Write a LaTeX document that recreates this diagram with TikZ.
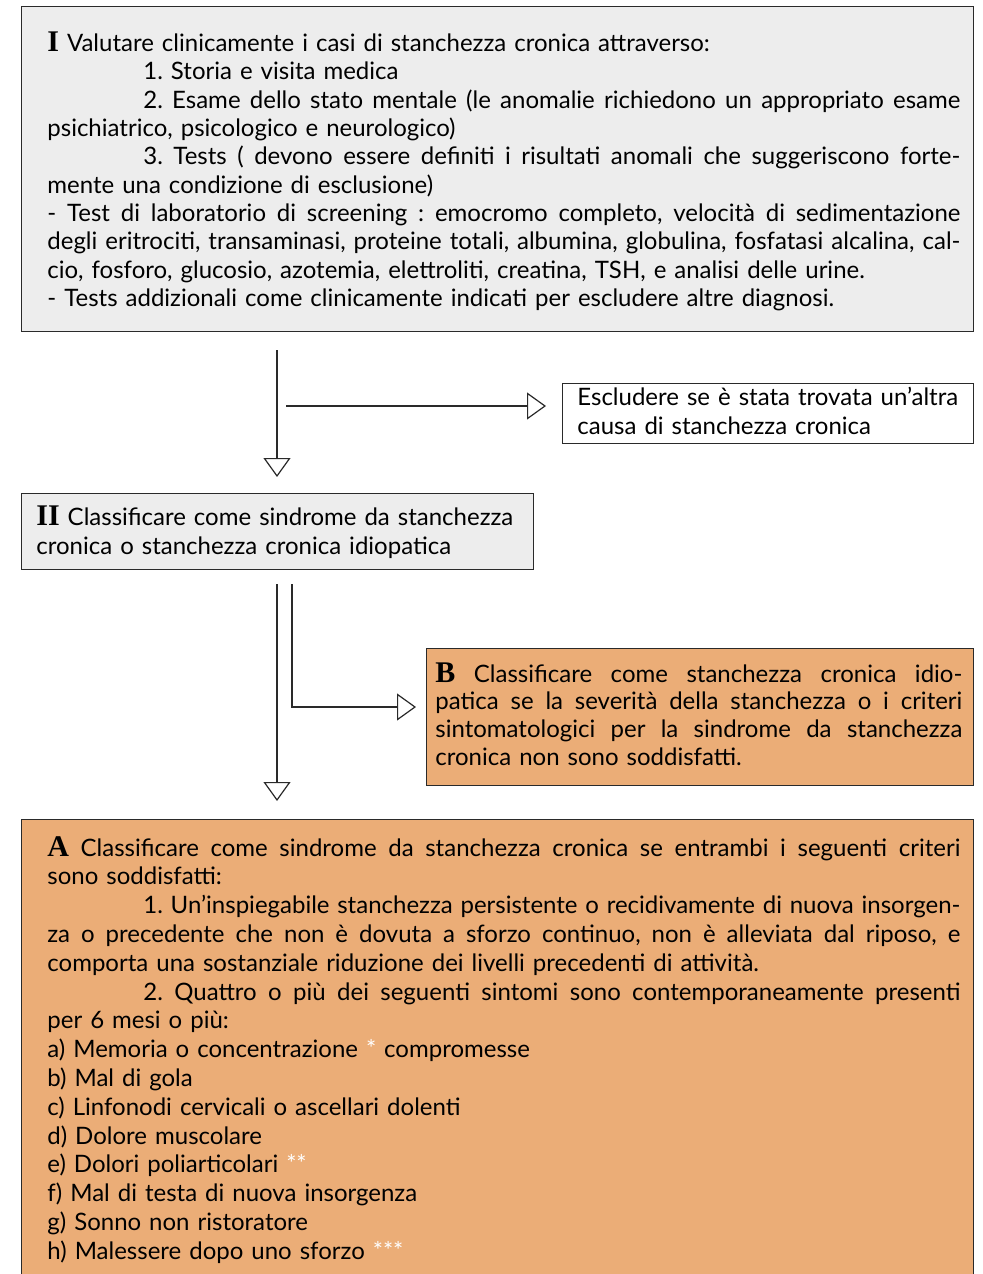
\documentclass[tikz,border=0pt]{standalone}
\usepackage{fontspec}
\newfontfamily\bodyfont{Lato}
\newfontfamily\tagfont{Liberation Serif}
\usetikzlibrary{arrows.meta}
\definecolor{panelgray}{HTML}{EDEDED}
\definecolor{panelorange}{HTML}{EBAD77}
\definecolor{rimgray}{HTML}{2A2A2A}
\newlength{\rowwd}
\newcommand{\tagmark}[1]{{\tagfont\bfseries\fontsize{15}{15}\selectfont #1}}
\newcommand{\fullline}[1]{\leavevmode\hbox to \rowwd{\spaceskip=\fontdimen2\font plus 1fil minus 0.6\fontdimen2\font\relax #1}}
\newcommand{\tabin}{\hspace*{48pt}}
\newcommand{\paleast}[1]{{\color{white}#1}}
\tikzset{
  panel/.style={draw=rimgray, line width=0.6pt, anchor=north west, inner sep=0pt},
  paneltext/.style={anchor=base west, inner sep=0pt, align=left, text width=#1,
    execute at begin node={\setlength{\rowwd}{#1}}},
  flow/.style={draw=rimgray, line width=0.6pt, -{Triangle[open, length=9.5pt, width=13.5pt, fill=white]}}
}

\begin{document}
\begin{tikzpicture}[x=0.5pt, y=-0.5pt]
  \useasboundingbox (0,0) rectangle (983,1274);
  \clip (0,0) rectangle (983,1274);
  % panels
  \node[panel, fill=panelgray, minimum width=476.15pt, minimum height=162.5pt] (evalbox) at (20.7,6) {};
  \node[panel, fill=white, minimum width=205.5pt, minimum height=30pt] (exclbox) at (562,383) {};
  \node[panel, fill=panelgray, minimum width=256.15pt, minimum height=38pt] (classbox) at (20.7,493) {};
  \node[panel, fill=panelorange, minimum width=273.5pt, minimum height=68.5pt] (idiobox) at (426,648) {};
  \node[panel, fill=panelorange, minimum width=476.15pt, minimum height=260pt] (critbox) at (20.7,819) {};
  % texts
  \node[paneltext=456.5pt, font=\bodyfont\fontsize{12}{14.17}\selectfont\frenchspacing] (evaltext) at (47,51.5) {%
    \tagmark{I} Valutare clinicamente i casi di stanchezza cronica attraverso:\\
    \tabin 1. Storia e visita medica\\
    \fullline{\tabin 2. Esame dello stato mentale (le anomalie richiedono un appropriato esame}\\
    psichiatrico, psicologico e neurologico)\\
    \fullline{\tabin 3. Tests ( devono essere definiti i risultati anomali che suggeriscono forte-}\\
    mente una condizione di esclusione)\\
    \fullline{- Test di laboratorio di screening : emocromo completo, velocità di sedimentazione}\\
    \fullline{degli eritrociti, transaminasi, proteine totali, albumina, globulina, fosfatasi alcalina, cal-}\\
    cio, fosforo, glucosio, azotemia, elettroliti, creatina, TSH, e analisi delle urine.\\
    - Tests addizionali come clinicamente indicati per escludere altre diagnosi.};
  \node[paneltext=198pt, font=\bodyfont\fontsize{12}{14.5}\selectfont\frenchspacing] (excltext) at (577,405) {%
    Escludere se è stata trovata un’altra\\
    causa di stanchezza cronica};
  \node[paneltext=245pt, font=\bodyfont\fontsize{12}{14.5}\selectfont\frenchspacing] (classtext) at (36,525) {%
    \tagmark{II} Classificare come sindrome da stanchezza\\
    cronica o stanchezza cronica idiopatica};
  \node[paneltext=263.5pt, font=\bodyfont\fontsize{12}{13.85}\selectfont\frenchspacing] (idiotext) at (435,682) {%
    \fullline{\tagmark{B} Classificare come stanchezza cronica idio-}\\
    \fullline{patica se la severità della stanchezza o i criteri}\\
    \fullline{sintomatologici per la sindrome da stanchezza}\\
    cronica non sono soddisfatti.};
  \node[paneltext=456.5pt, font=\bodyfont\fontsize{12}{14.4}\selectfont\frenchspacing] (crittext) at (47,856) {%
    \fullline{\tagmark{A} Classificare come sindrome da stanchezza cronica se entrambi i seguenti criteri}\\
    sono soddisfatti:\\
    \fullline{\tabin 1. Un’inspiegabile stanchezza persistente o recidivamente di nuova insorgen-}\\
    \fullline{za o precedente che non è dovuta a sforzo continuo, non è alleviata dal riposo, e}\\
    comporta una sostanziale riduzione dei livelli precedenti di attività.\\
    \fullline{\tabin 2. Quattro o più dei seguenti sintomi sono contemporaneamente presenti}\\
    per 6 mesi o più:\\
    a) Memoria o concentrazione \paleast{*} compromesse\\
    b) Mal di gola\\
    c) Linfonodi cervicali o ascellari dolenti\\
    d) Dolore muscolare\\
    e) Dolori poliarticolari \paleast{**}\\
    f) Mal di testa di nuova insorgenza\\
    g) Sonno non ristoratore\\
    h) Malessere dopo uno sforzo \paleast{***}};
  % connectors
  \coordinate (trunkA) at (277,350);
  \coordinate (branchA) at (286,406);
  \coordinate (trunkB) at (277,584);
  \coordinate (branchB) at (292,584);
  \coordinate (elbowB) at (292,707);
  \draw[flow, shorten >=8pt] (trunkA) -- (trunkA |- classbox.north);
  \draw[flow, shorten >=8pt] (branchA) -- (branchA -| exclbox.west);
  \draw[flow, shorten >=9pt] (trunkB) -- (trunkB |- critbox.north);
  \draw[flow, shorten >=5pt] (branchB) |- (elbowB -| idiobox.west);
\end{tikzpicture}
\end{document}
